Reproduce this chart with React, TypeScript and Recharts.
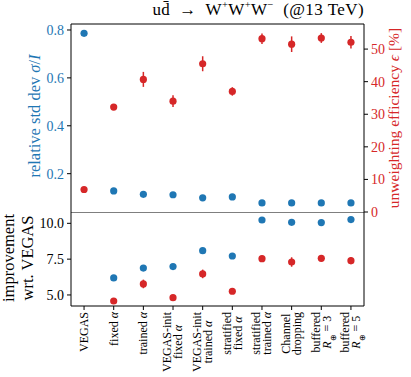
import React from 'react'
import {
  ComposedChart, Line, XAxis, YAxis, ErrorBar, ReferenceLine,
} from 'recharts'

const BLUE = '#1f77b4'
const RED = '#d62728'
const FONT = "'Liberation Serif', serif"

// x categories, one array of text lines per tick
const tickLines: string[][] = [
  ['VEGAS'],
  ['fixed α'],
  ['trained α'],
  ['VEGAS-init', 'fixed α'],
  ['VEGAS-init', 'trained α'],
  ['stratified', 'fixed α'],
  ['stratified', 'trained α'],
  ['Channel', 'dropping'],
  ['buffered', 'R⊕ = 3'],
  ['buffered', 'R⊕ = 5'],
]

// top panel
const relStdDev = [0.786, 0.128, 0.114, 0.112, 0.099, 0.103, 0.078, 0.078, 0.078, 0.078]
const unwEff = [6.9, 32.2, 40.7, 34.0, 45.5, 37.0, 53.2, 51.5, 53.4, 52.1]
const unwEffErr = [0.4, 0.6, 2.3, 1.8, 2.3, 1.3, 1.6, 2.4, 1.5, 1.9]

// bottom panel (VEGAS has no point)
const impStdDev = [null, 6.19, 6.88, 6.98, 8.09, 7.72, 10.23, 10.07, 10.05, 10.26]
const impEff = [null, 4.58, 5.77, 4.81, 6.47, 5.26, 7.53, 7.30, 7.56, 7.39]
const impEffErr = [null, 0.1, 0.3, 0.15, 0.3, 0.15, 0.2, 0.33, 0.2, 0.25]

const leftTicks = [0.2, 0.4, 0.6, 0.8]
const rightTicks = [0, 10, 20, 30, 40, 50]
const impTicks = [5, 7.5, 10]

const X_DOMAIN: [number, number] = [-0.44, 9.44]
const xTicks = tickLines.map((_, i) => i)

const topData = tickLines.map((_, i) => ({
  x: i, blue: relStdDev[i], red: unwEff[i], redErr: unwEffErr[i],
}))
const bottomData = tickLines
  .map((_, i) => ({ x: i, blue: impStdDev[i], red: impEff[i], redErr: impEffErr[i] }))
  .filter(d => d.blue != null)

let ctx: CanvasRenderingContext2D | null = null
const measure = (s: string) => {
  if (!ctx) ctx = document.createElement('canvas').getContext('2d')
  if (!ctx) return s.length * 6
  ctx.font = `12px ${FONT}`
  return ctx.measureText(s).width
}

const rich = (s: string) => {
  if (s.startsWith('R⊕')) {
    return [
      <tspan key="r" fontStyle="italic">R</tspan>,
      <tspan key="o" fontSize={8} baselineShift="sub">⊕</tspan>,
      <tspan key="t">{s.slice(2)}</tspan>,
    ]
  }
  if (s.endsWith('α')) {
    return [<tspan key="a">{s.slice(0, -1)}</tspan>, <tspan key="b" fontStyle="italic">α</tspan>]
  }
  return s
}

const XTick = ({ x, y, payload }: any) => {
  const lines = tickLines[payload.value] ?? []
  const w = Math.max(...lines.map(measure))
  const n = lines.length
  return (
    <g transform={`translate(${x},${y}) rotate(-90)`}>
      {lines.map((l, i) => (
        <text key={i} x={-w / 2} y={3.8 + (i - (n - 1) / 2) * 11} textAnchor="middle"
          fontSize={12} fontFamily={FONT} fill="#000">{rich(l)}</text>
      ))}
    </g>
  )
}

const dot = (fill: string) => ({ r: 3.6, fill, stroke: 'none' })

// rotated axis title, (cx, cy) = centre of the text block
const rotLabel = (cx: number, cy: number, color: string, fs: number, lh: number, content: React.ReactNode) => (
  <div style={{
    position: 'absolute', left: cx - 150, top: cy - 25, width: 300, height: 50,
    display: 'flex', alignItems: 'center', justifyContent: 'center',
    transform: 'rotate(-90deg)', color, fontFamily: FONT, fontSize: fs,
    lineHeight: `${lh}px`, textAlign: 'center', whiteSpace: 'nowrap',
  }}>
    <div>{content}</div>
  </div>
)

const sup = { fontSize: '0.62em' }

export default function App() {
  return (
    <div style={{ position: 'absolute', left: 0, top: 0, width: 411, height: 377, background: '#fff', overflow: 'hidden' }}>
      <div style={{
        position: 'absolute', right: 47, top: -1, fontFamily: FONT, fontSize: 17,
        letterSpacing: '0.4px', whiteSpace: 'nowrap',
      }}>
        ud̄{'\u2002'}→{'\u2002'}W<sup style={sup}>+</sup>W<sup style={sup}>+</sup>W<sup style={sup}>−</sup>&nbsp;&nbsp;(@13&nbsp;TeV)
      </div>

      <div style={{ position: 'absolute', left: 0, top: 0 }}>
        <ComposedChart width={411} height={230} data={topData}
          margin={{ top: 24, right: 7, bottom: 18, left: 31 }}>
          <XAxis dataKey="x" type="number" domain={X_DOMAIN} ticks={xTicks} allowDataOverflow
            height={0} tick={false} tickLine={false} axisLine={{ stroke: '#000' }} />
          <YAxis yAxisId="left" domain={[0.04, 0.825]} ticks={leftTicks} allowDataOverflow width={40}
            tickFormatter={(v: number) => v.toFixed(1)} tickSize={4} tickMargin={3}
            axisLine={{ stroke: '#000' }} tickLine={{ stroke: '#000' }}
            tick={{ fill: BLUE, fontSize: 14, fontFamily: FONT }} />
          <YAxis yAxisId="right" orientation="right" domain={[0, 57.7]} ticks={rightTicks} allowDataOverflow width={40}
            tickSize={4} tickMargin={3}
            axisLine={{ stroke: '#000' }} tickLine={{ stroke: '#000' }}
            tick={{ fill: RED, fontSize: 14, fontFamily: FONT, textAnchor: 'start' }} />
          <ReferenceLine yAxisId="left" y={0.825} stroke="#000" />
          <Line yAxisId="left" dataKey="blue" stroke="none" dot={dot(BLUE)} activeDot={false}
            isAnimationActive={false} />
          <Line yAxisId="right" dataKey="red" stroke="none" dot={dot(RED)} activeDot={false}
            isAnimationActive={false}>
            <ErrorBar dataKey="redErr" direction="y" width={0} stroke={RED} strokeWidth={1.5} />
          </Line>
        </ComposedChart>
      </div>

      <div style={{ position: 'absolute', left: 0, top: 212 }}>
        <ComposedChart width={411} height={165} data={bottomData}
          margin={{ top: 0, right: 47, bottom: 0, left: 31 }}>
          <XAxis dataKey="x" type="number" domain={X_DOMAIN} ticks={xTicks} allowDataOverflow
            height={71} tickSize={4} tickMargin={2} interval={0}
            axisLine={{ stroke: '#000' }} tickLine={{ stroke: '#000' }}
            tick={(p: any) => <XTick {...p} />} />
          <YAxis domain={[4.23, 10.79]} ticks={impTicks} allowDataOverflow width={40}
            tickFormatter={(v: number) => v.toFixed(1)} tickSize={4} tickMargin={3}
            axisLine={{ stroke: '#000' }} tickLine={{ stroke: '#000' }}
            tick={{ fill: '#000', fontSize: 14, fontFamily: FONT }} />
          <ReferenceLine y={10.79} stroke="#000" />
          <ReferenceLine x={9.44} stroke="#000" />
          <Line dataKey="blue" stroke="none" dot={dot(BLUE)} activeDot={false} isAnimationActive={false} />
          <Line dataKey="red" stroke="none" dot={dot(RED)} activeDot={false} isAnimationActive={false}>
            <ErrorBar dataKey="redErr" direction="y" width={0} stroke={RED} strokeWidth={1.5} />
          </Line>
        </ComposedChart>
      </div>

      {rotLabel(34.5, 116, BLUE, 16.5, 16.5, <>relative std dev <i>σ</i>/<i>I</i></>)}
      {rotLabel(393.5, 117.5, RED, 15.5, 15.5, <>unweighting efficiency <i>ϵ</i> [%]</>)}
      {rotLabel(18, 258, '#000', 16.5, 19, <>improvement<br />wrt. VEGAS</>)}
    </div>
  )
}
